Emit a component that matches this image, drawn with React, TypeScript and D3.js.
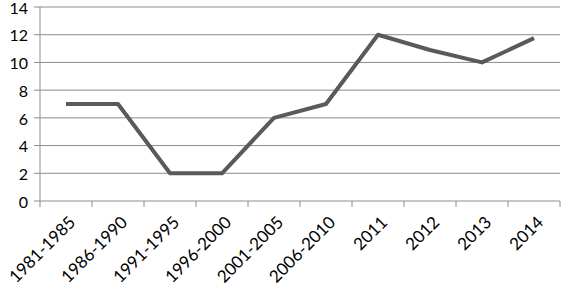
import React from "react";
import { scaleBand, scaleLinear, line } from "d3";

const categories = [
  "1981-1985", "1986-1990", "1991-1995", "1996-2000", "2001-2005",
  "2006-2010", "2011", "2012", "2013", "2014",
];
const values = [7, 7, 2, 2, 6, 7, 12, 10.9, 10, 11.75];
const yTicks = [0, 2, 4, 6, 8, 10, 12, 14];

const W = 562;
const H = 291;
const m = { left: 40, right: 2, top: 7, bottom: 90 };

export default function App() {
  const x = scaleBand().domain(categories).range([m.left, W - m.right]);
  const y = scaleLinear().domain([0, 14]).range([H - m.bottom, m.top]);

  const path = line<number>()
    .x((_, i) => x(categories[i])! + x.bandwidth() / 2)
    .y((d) => y(d))(values);

  const font = "Lato, 'Open Sans', sans-serif";

  return (
    <svg
      width={W}
      height={H}
      style={{ position: "absolute", left: 0, top: 0, background: "#fff" }}
    >
      {yTicks.map((t) => (
        <g key={t}>
          <line x1={m.left - 6} x2={W - m.right} y1={y(t)} y2={y(t)} stroke="#8c8c8c" strokeWidth={1} />
          <text x={28} y={y(t)} dy="0.42em" textAnchor="end" fontSize={16} fontFamily={font} fill="#000">
            {t}
          </text>
        </g>
      ))}
      <line x1={m.left} x2={m.left} y1={m.top} y2={y(0)} stroke="#8c8c8c" strokeWidth={1} />
      {categories.map((c) => (
        <line key={c} x1={x(c)!} x2={x(c)!} y1={y(0)} y2={y(0) + 6} stroke="#8c8c8c" strokeWidth={1} />
      ))}
      <line x1={W - m.right} x2={W - m.right} y1={y(0)} y2={y(0) + 6} stroke="#8c8c8c" strokeWidth={1} />
      <path d={path ?? ""} fill="none" stroke="#5a5a5a" strokeWidth={4} strokeLinejoin="round" />
      {categories.map((c) => {
        const cx = x(c)! + x.bandwidth() / 2 + 2;
        const cy = y(0) + 14;
        return (
          <text
            key={c}
            x={cx}
            y={cy}
            textAnchor="end"
            dy="0.7em"
            fontSize={17}
            fontFamily={font}
            fill="#000"
            transform={`rotate(-45 ${cx} ${cy})`}
          >
            {c}
          </text>
        );
      })}
    </svg>
  );
}
